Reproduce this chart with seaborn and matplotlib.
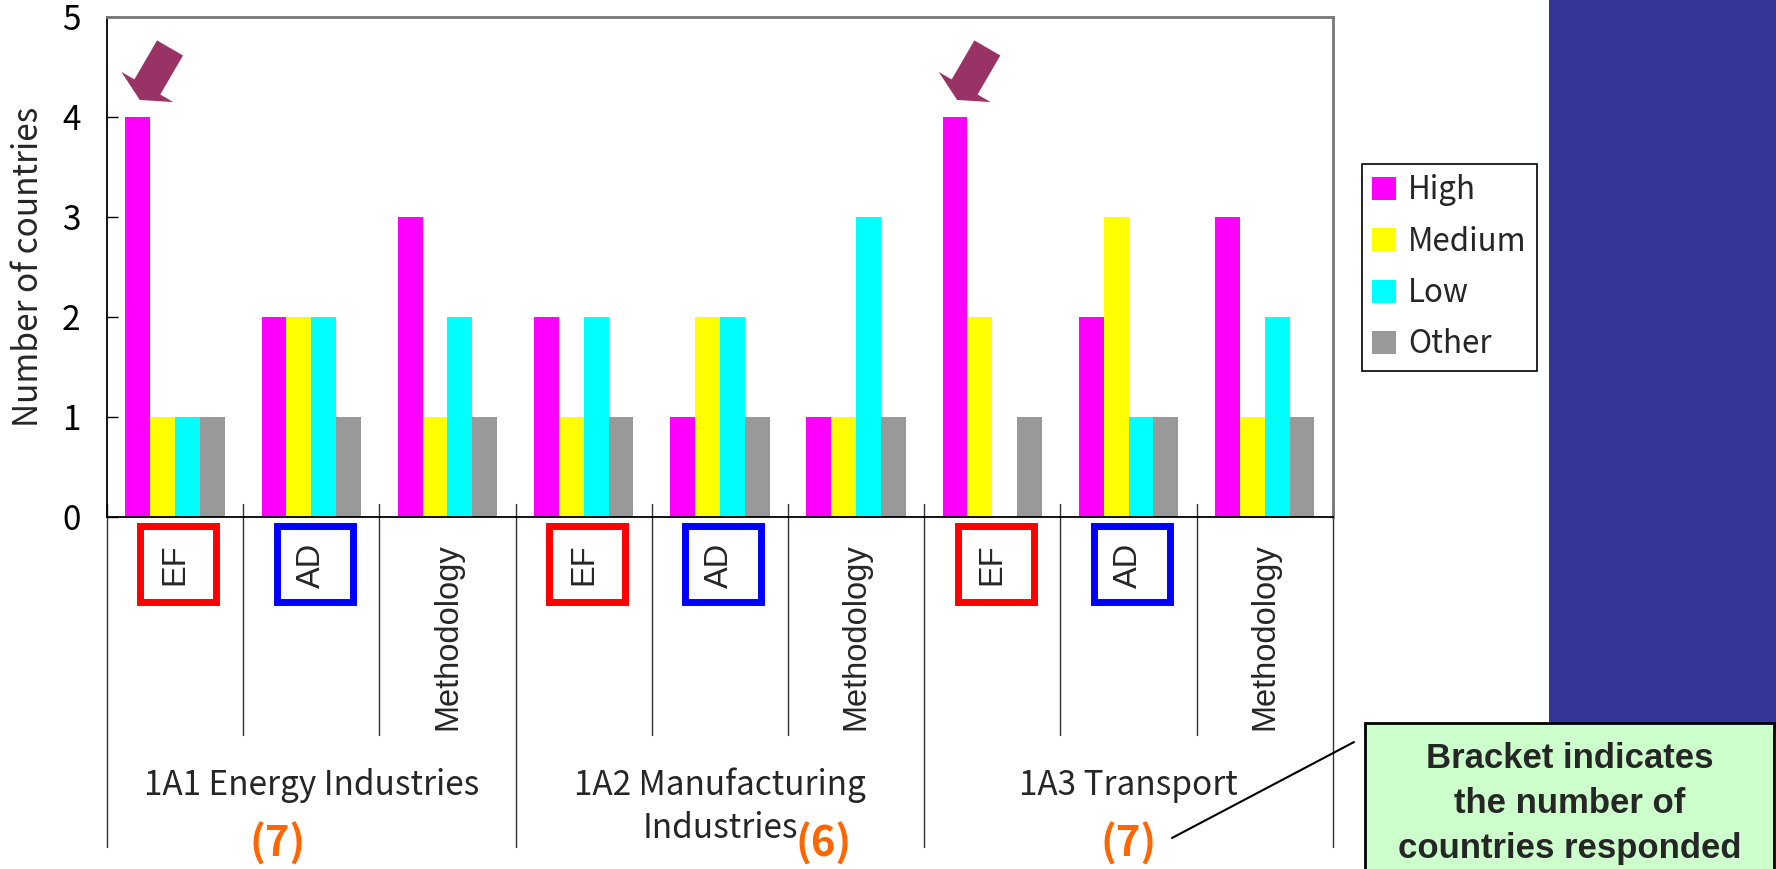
import numpy as np
import pandas as pd
import matplotlib.pyplot as plt
import seaborn as sns
from matplotlib.patches import Rectangle
from matplotlib.lines import Line2D
from matplotlib.transforms import blended_transform_factory

sns.set_style("white")
plt.rcParams['font.family'] = ['Noto Sans CJK JP', 'DejaVu Sans']

# data
sectors = ["1A1 Energy Industries", "1A2 Manufacturing\nIndustries", "1A3 Transport"]
sector_codes = ["1A1", "1A2", "1A3"]
responses = ["(7)", "(6)", "(7)"]
items = ["EF", "AD", "Methodology"]
levels = ["High", "Medium", "Low", "Other"]
colors = ["#FF00FF", "#FFFF00", "#00FFFF", "#999999"]

high = [4, 2, 3, 2, 1, 1, 4, 2, 3]
medium = [1, 2, 1, 1, 2, 1, 2, 3, 1]
low = [1, 2, 2, 2, 2, 3, 0, 1, 2]
other = [1, 1, 1, 1, 1, 1, 1, 1, 1]

arrow_cats = [0, 6]  # EF bars pointed at
note = "Bracket indicates\nthe number of\ncountries responded"

# long table for seaborn
cats = [f"{s} {it}" for s in sector_codes for it in items]
rows = []
for lvl, vals in zip(levels, [high, medium, low, other]):
    for c, v in zip(cats, vals):
        rows.append({"cat": c, "level": lvl, "count": v})
df = pd.DataFrame(rows)

fig = plt.figure(figsize=(17.76, 8.69), dpi=100)
ax = fig.add_axes([0.0602, 0.4051, 0.6903, 0.5754])

bar_w = 0.73
sns.barplot(data=df, x="cat", y="count", hue="level", order=cats,
            hue_order=levels, palette=colors, width=bar_w, saturation=1,
            linewidth=0, ax=ax)

ax.set_ylim(0, 5)
ax.set_xlim(-0.5, len(cats) - 0.5)
ax.set_yticks(range(6))
ax.tick_params(axis='y', direction='in', length=8, width=1, labelsize=24,
               pad=19, left=True, colors='black')
ax.tick_params(axis='x', length=0, labelbottom=False)
ax.set_xlabel("")
ax.set_ylabel("Number of countries", fontsize=24)
ax.yaxis.set_label_coords(-0.05, 0.5)

for side in ["left", "bottom"]:
    ax.spines[side].set_color("black")
    ax.spines[side].set_linewidth(1.3)
for side in ["top", "right"]:
    ax.spines[side].set_color("#777777")
    ax.spines[side].set_linewidth(2)

# category labels under the axis
trans = blended_transform_factory(ax.transData, ax.transAxes)
box_colors = {"EF": "#FF0000", "AD": "#0000FF"}
for i, c in enumerate(cats):
    it = items[i % 3]
    ax.text(i, -0.052, it, transform=trans, rotation=90, ha='center',
            va='top', fontsize=23.5, family='Liberation Sans')
    if it in box_colors:
        ax.add_patch(Rectangle((i + 0.025 - 0.279, -0.171), 0.558, 0.152,
                               transform=trans, fill=False,
                               edgecolor=box_colors[it], lw=5,
                               clip_on=False))

# separators between categories
for i in range(len(cats) + 1):
    bottom = -0.66 if i % 3 == 0 else -0.436
    ax.plot([i - 0.5, i - 0.5], [0.026, bottom], transform=trans,
            color="#333333", lw=1, clip_on=False)

# sector labels (one line at a time) and number of responses
resp_x = [0.755, 4.76, 7.0]
for g, (name, resp) in enumerate(zip(sectors, responses)):
    for k, line in enumerate(name.split("\n")):
        ax.text(3 * g + 1, -0.556 - 0.086 * k, line, transform=trans,
                ha='center', va='baseline', fontsize=24)
    ax.text(resp_x[g], -0.61, resp, transform=trans, ha='center', va='top',
            fontsize=30, fontweight='bold', color="#FF6600")

# arrows pointing at the High bars
slot = bar_w / len(levels)
for ci in arrow_cats:
    tip_x = ci - bar_w / 2 + slot / 2 + 0.015
    tip_y = high[ci] + 0.17
    ax.annotate("", xy=(tip_x, tip_y), xytext=(tip_x + 0.222, tip_y + 0.52),
                arrowprops=dict(arrowstyle="simple,head_length=1.08,head_width=4.32,tail_width=2.16",
                                mutation_scale=10, fc="#993366", ec="none",
                                lw=0, shrinkA=0, shrinkB=0),
                annotation_clip=False)

# legend
handles, labels = ax.get_legend_handles_labels()
leg = ax.legend(handles, labels, loc='upper left',
                bbox_to_anchor=(0.7669, 0.8113), bbox_transform=fig.transFigure,
                frameon=True, fancybox=False, edgecolor='black', framealpha=1,
                fontsize=22.5, handlelength=0.76, handleheight=0.76,
                handletextpad=0.38, labelspacing=0.62, borderpad=0.33,
                borderaxespad=0)
leg.get_frame().set_linewidth(1.2)

# decoration on the right side
fig.add_artist(Rectangle((0.8722, 0.16), 0.13, 0.85, transform=fig.transFigure,
                         facecolor="#353597", edgecolor="none", zorder=0))
fig.add_artist(Rectangle((0.7686, -0.02), 0.2305, 0.188, transform=fig.transFigure,
                         facecolor="#CCFFCC", edgecolor="black", lw=2, zorder=1))
for k, line in enumerate(note.split("\n")):
    fig.text(0.884, 0.1162 - 0.0515 * k, line, ha='center', va='baseline',
             fontsize=25, fontweight='bold', family='Liberation Sans', zorder=5)
fig.add_artist(Line2D([0.7624, 0.6599], [0.1461, 0.0357], transform=fig.transFigure,
                      color='black', lw=1.5))

fig.savefig("out.png", dpi=100)
